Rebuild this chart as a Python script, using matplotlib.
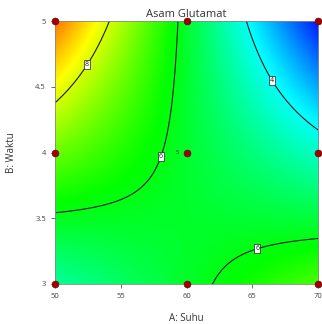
import numpy as np
import matplotlib
matplotlib.use("Agg")
import matplotlib.pyplot as plt
from matplotlib.colors import LinearSegmentedColormap

plt.rcParams['font.family'] = ['Open Sans', 'DejaVu Sans']

# Response-surface model (coded units a=(A-60)/10, b=B-4), coefficients
terms = ["1", "a", "b", "ab", "a2", "b2", "a2b", "ab2"]
coefs = [5.756, -1.326, -0.024, -2.427, -0.005, 0.019, -0.003, -0.088]

contour_levels = [4, 6, 8]
label_pos = [(52.4, 4.67), (58.0, 3.97), (66.55, 4.55), (65.29, 3.30)]

design_A = [50, 60, 70, 50, 70, 50, 60, 70, 60]
design_B = [3, 3, 3, 4, 4, 5, 5, 5, 4]
center_reps = "5"

xticks = [50, 55, 60, 65, 70]
yticks = [3, 3.5, 4, 4.5, 5]
ytick_labels = ["3", "3.5", "4", "4.5", "5"]


def model(A, B):
    a = (A - 60) / 10
    b = B - 4
    basis = [np.ones_like(a), a, b, a * b, a ** 2, b ** 2, a * a * b, a * b * b]
    return sum(c * t for c, t in zip(coefs, basis))


A = np.linspace(50, 70, 300)
B = np.linspace(3, 5, 300)
AA, BB = np.meshgrid(A, B)
Z = model(AA, BB)

cmap = LinearSegmentedColormap.from_list(
    "de", ["#0000ff", "#00ffff", "#00ff00", "#ffff00", "#ff0000"])

fig = plt.figure(figsize=(3.22, 3.24), dpi=100)
ax = fig.add_axes([0.1708, 0.1235, 0.8168, 0.8115])
ax.imshow(Z, origin="lower", extent=[50, 70, 3, 5], aspect="auto",
          cmap=cmap, vmin=1.7, vmax=10.6, interpolation="bilinear")
cs = ax.contour(AA, BB, Z, levels=contour_levels, colors="#1a1a1a", linewidths=0.8)
labels = ax.clabel(cs, fmt="%d", fontsize=5, manual=label_pos, inline=True,
                   inline_spacing=1)
for t in labels:
    t.set_bbox(dict(boxstyle="square,pad=0.15", fc="white", ec="#222222", lw=0.5))
    t.set_rotation(0)

ax.plot(design_A, design_B, "o", color="#a00000", ms=5, mec="#6a0000", mew=0.4,
        clip_on=False, zorder=5)
ax.text(59.4, 4.0, center_reps, fontsize=4, ha="right", va="center", color="#333333")

ax.set_xlim(50, 70)
ax.set_ylim(3, 5)
ax.set_xticks(xticks)
ax.set_xticklabels([str(v) for v in xticks])
ax.set_yticks(yticks)
ax.set_yticklabels(ytick_labels)
ax.tick_params(labelsize=5.5, colors="#555555", length=3, width=0.6, labelcolor="#444444")
for s in ax.spines.values():
    s.set_color("#888888")
    s.set_linewidth(0.6)

ax.set_title("Asam Glutamat", fontsize=8, color="#333333", pad=3)
ax.set_xlabel("A: Suhu", fontsize=7, color="#333333", labelpad=9)
ax.set_ylabel("B: Waktu", fontsize=7, color="#333333", labelpad=13)

fig.savefig("out.png")
